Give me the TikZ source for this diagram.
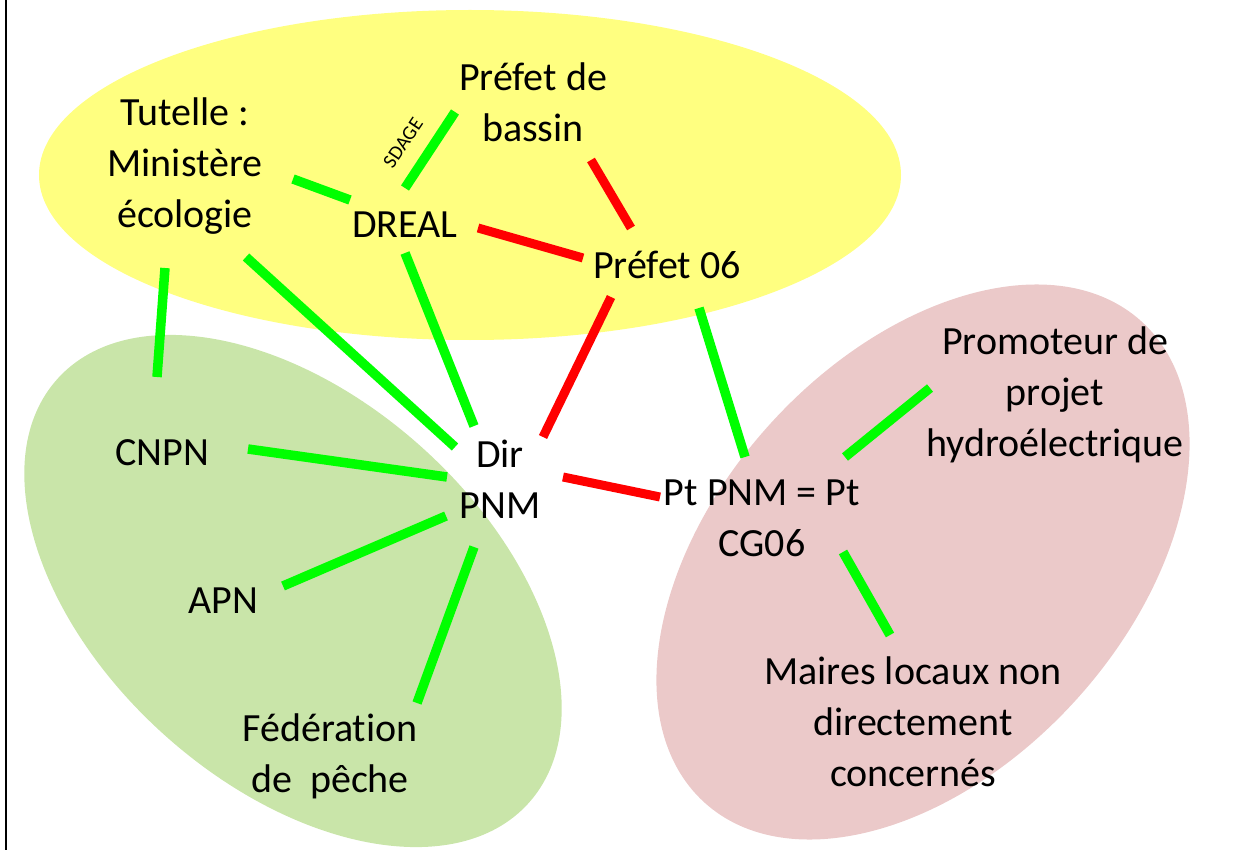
\documentclass[tikz,border=0pt]{standalone}
\usepackage{fontspec}
\setmainfont{Carlito}[Ligatures=NoCommon]
\definecolor{yel}{HTML}{FFFF80}
\definecolor{grn}{HTML}{C9E5A9}
\definecolor{pnk}{HTML}{EBC9C9}
\definecolor{lgreen}{HTML}{00FF00}
\definecolor{lred}{HTML}{FF0000}
\tikzset{
  lbl/.style={align=center, inner sep=0pt, font=\fontsize{40}{51}\selectfont},
  gl/.style={draw=lgreen, line width=9.5pt},
  rl/.style={draw=lred, line width=9pt},
}
\begin{document}
\begin{tikzpicture}[x=1pt,y=-1pt]
\useasboundingbox (0,0) rectangle (1244,850);
% background ellipses
\fill[yel] (470,175) ellipse [x radius=431, y radius=165];
\fill[grn, rotate around={-42:(293,591)}] (293,591) ellipse [x radius=317, y radius=193];
\fill[pnk, rotate around={47.7:(923,562)}] (923,562) ellipse [x radius=325, y radius=206];
% left border
\draw[line width=2pt] (6,0) -- (6,850);
% nodes
\node[lbl] (tut) at (185,166) {Tutelle :\\Ministère\\écologie};
\node[lbl] (pbas) at (533,102) {Préfet de\\bassin};
\node[lbl] (dreal) at (405,225) {DREAL};
\node[lbl] (p06) at (667,265) {Préfet 06};
\node[lbl] (dir) at (500,479) {Dir\\PNM};
\node[lbl] (pt) at (762,518) {Pt PNM = Pt\\CG06};
\node[lbl] (prom) at (1055,395) {Promoteur de\\projet\\hydroélectrique};
\node[lbl] (maires) at (913,722) {Maires locaux non\\directement\\concernés};
\node[lbl] (cnpn) at (162,453) {CNPN};
\node[lbl] (apn) at (223,601) {APN};
\node[lbl] (fed) at (330,756) {Fédération\\de\ \ pêche};
\node[inner sep=0pt, font=\fontsize{20}{22}\selectfont, rotate=56] (sdage) at (403,143) {SDAGE};
% connector ends
\coordinate (tutD) at (293,179); \coordinate (dreT) at (350,200);
\coordinate (dreB) at (405,188); \coordinate (pbaD) at (455,112);
\coordinate (pbaP) at (591,160); \coordinate (p06B) at (631,228);
\coordinate (dreP) at (478,228); \coordinate (p06D) at (583,258);
\coordinate (tutC) at (165,268); \coordinate (cnpT) at (157,377);
\coordinate (tutR) at (246,257); \coordinate (dirT) at (455,447);
\coordinate (dreR) at (405,253); \coordinate (dirD) at (474,426);
\coordinate (p06R) at (611,297); \coordinate (dirP) at (543,437);
\coordinate (p06G) at (699,308); \coordinate (ptP) at (745,457);
\coordinate (dirQ) at (563,477); \coordinate (ptD) at (660,497);
\coordinate (cnpD) at (248,449); \coordinate (dirC) at (447,477);
\coordinate (apnD) at (283,586); \coordinate (dirA) at (446,516);
\coordinate (fedD) at (417,703); \coordinate (dirF) at (474,547);
\coordinate (ptR) at (845,457); \coordinate (proP) at (930,388);
\coordinate (ptM) at (843,552); \coordinate (maiP) at (890,635);
% connectors
\draw[gl] (tutD) -- (dreT);
\draw[gl] (dreB) -- (pbaD);
\draw[rl] (pbaP) -- (p06B);
\draw[rl] (dreP) -- (p06D);
\draw[gl] (tutC) -- (cnpT);
\draw[gl] (tutR) -- (dirT);
\draw[gl] (dreR) -- (dirD);
\draw[rl] (p06R) -- (dirP);
\draw[gl] (p06G) -- (ptP);
\draw[rl] (dirQ) -- (ptD);
\draw[gl] (cnpD) -- (dirC);
\draw[gl] (apnD) -- (dirA);
\draw[gl] (fedD) -- (dirF);
\draw[gl] (ptR) -- (proP);
\draw[gl] (ptM) -- (maiP);
\end{tikzpicture}
\end{document}
